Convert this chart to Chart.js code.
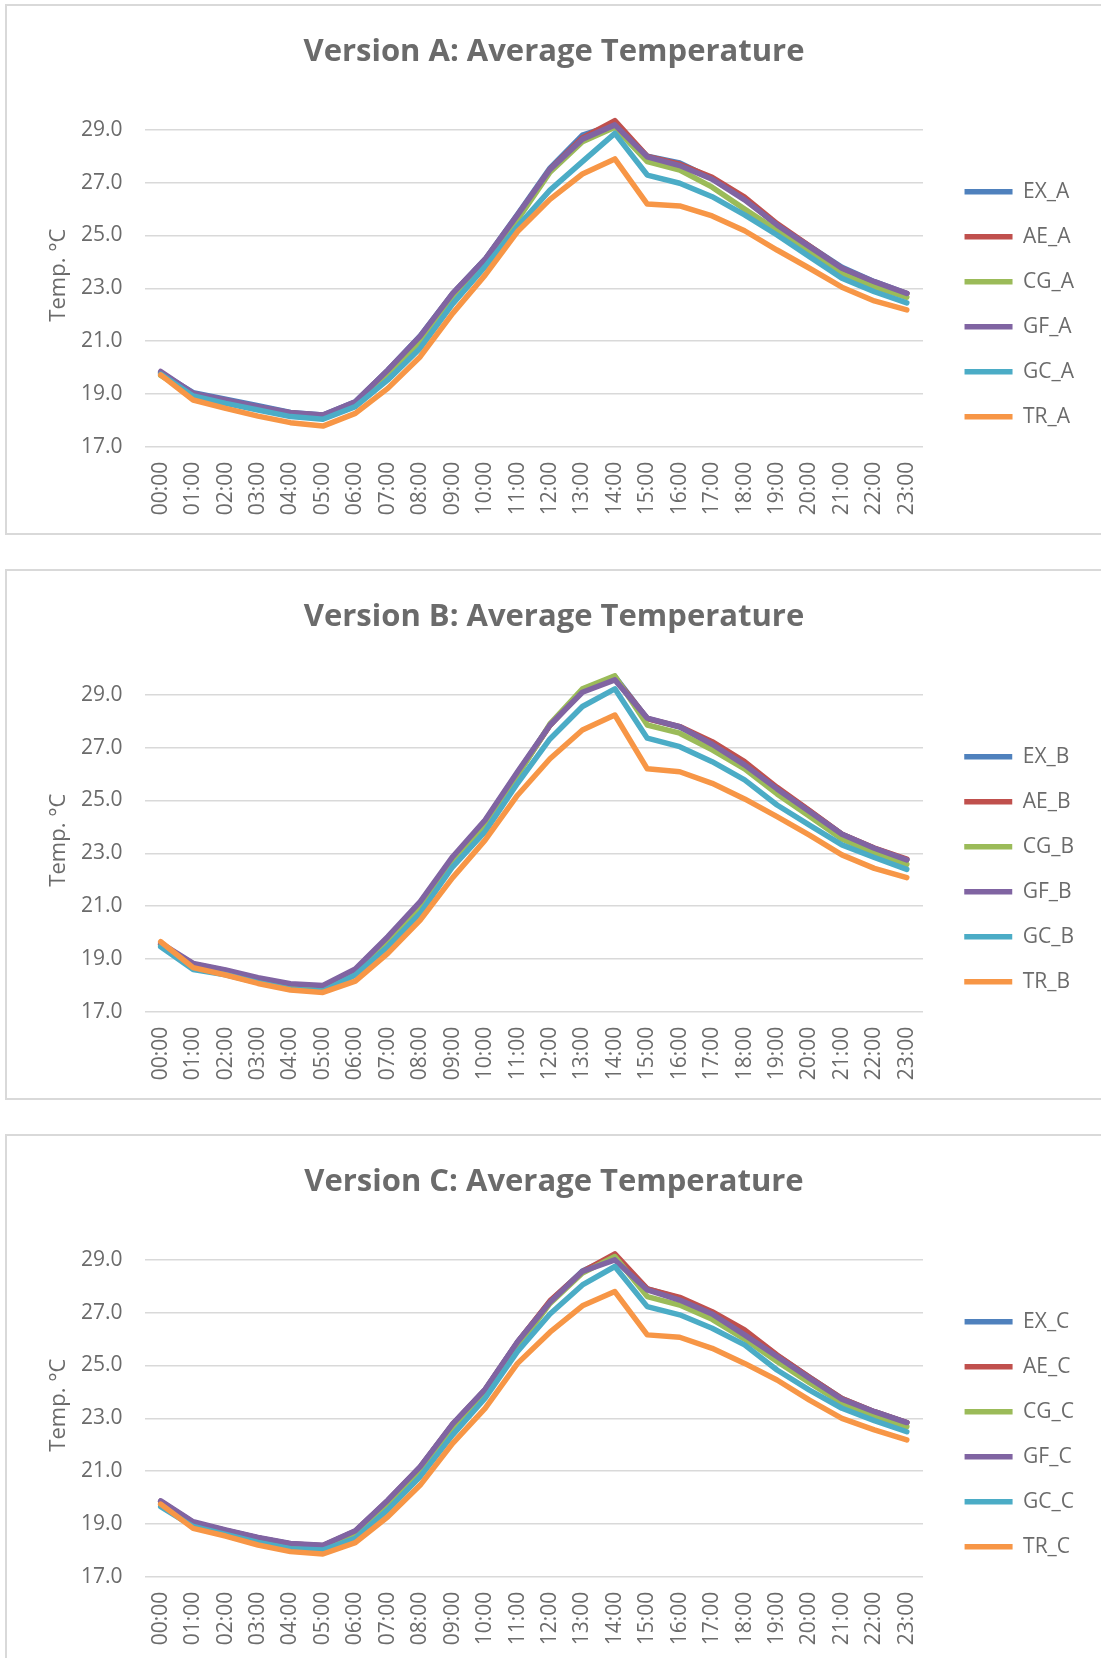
<!DOCTYPE html>
<html>
<head>
<meta charset="utf-8">
<script src="https://cdn.jsdelivr.net/npm/chart.js@4.4.1/dist/chart.umd.min.js"></script>
<style>
  html, body { margin: 0; padding: 0; background: #ffffff; }
  body { width: 1101px; height: 1658px; position: relative; overflow: hidden; }
  .box { position: absolute; left: 5px; width: 1110px; height: 527px; border: 2px solid #d9d9d9; background: #fff; }
  .box canvas { position: absolute; left: 0; top: 0; width: 1094px; height: 527px; }
</style>
</head>
<body>
<div class="box" style="top:4px"><canvas id="chartA" width="1094" height="527"></canvas></div>
<div class="box" style="top:569px"><canvas id="chartB" width="1094" height="527"></canvas></div>
<div class="box" style="top:1134px"><canvas id="chartC" width="1094" height="527"></canvas></div>
<script>
"use strict";

var hours = ["00:00", "01:00", "02:00", "03:00", "04:00", "05:00", "06:00", "07:00",
    "08:00", "09:00", "10:00", "11:00", "12:00", "13:00", "14:00", "15:00",
    "16:00", "17:00", "18:00", "19:00", "20:00", "21:00", "22:00", "23:00"];
var yTicks = [17, 19, 21, 23, 25, 27, 29];
var seriesNames = ["EX", "AE", "CG", "GF", "GC", "TR"];
var seriesColors = ["#4f81bd", "#c0504d", "#9bbb59", "#8064a2", "#4bacc6", "#f79646"];

// Version A
var EX_A = [19.80, 19.05, 18.80, 18.55, 18.30, 18.20, 18.70, 19.90, 21.20, 22.80, 24.10, 25.80, 27.55, 28.80, 29.20, 28.00, 27.75, 27.15, 26.40, 25.40, 24.60, 23.80, 23.25, 22.80];
var AE_A = [19.80, 19.00, 18.75, 18.50, 18.28, 18.18, 18.68, 19.88, 21.15, 22.78, 24.08, 25.75, 27.50, 28.70, 29.35, 28.00, 27.70, 27.20, 26.45, 25.45, 24.60, 23.75, 23.20, 22.80];
var CG_A = [19.70, 18.95, 18.70, 18.45, 18.22, 18.12, 18.55, 19.70, 21.00, 22.56, 23.95, 25.60, 27.40, 28.55, 29.10, 27.80, 27.48, 26.83, 26.00, 25.20, 24.40, 23.55, 23.05, 22.66];
var GF_A = [19.85, 19.02, 18.77, 18.52, 18.29, 18.20, 18.70, 19.90, 21.19, 22.81, 24.10, 25.78, 27.50, 28.65, 29.19, 27.98, 27.65, 27.13, 26.35, 25.40, 24.58, 23.76, 23.25, 22.81];
var GC_A = [19.75, 18.92, 18.64, 18.39, 18.14, 18.04, 18.52, 19.53, 20.73, 22.41, 23.82, 25.34, 26.72, 27.80, 28.87, 27.29, 26.98, 26.47, 25.78, 25.02, 24.20, 23.38, 22.87, 22.45];
var TR_A = [19.72, 18.77, 18.45, 18.16, 17.91, 17.78, 18.26, 19.21, 20.41, 22.05, 23.50, 25.15, 26.37, 27.33, 27.90, 26.19, 26.12, 25.74, 25.18, 24.45, 23.76, 23.04, 22.52, 22.18];

// Version B
var EX_B = [19.55, 18.80, 18.55, 18.25, 18.03, 17.95, 18.58, 19.80, 21.13, 22.82, 24.22, 26.05, 27.85, 29.15, 29.70, 28.10, 27.78, 27.15, 26.40, 25.45, 24.60, 23.72, 23.18, 22.75];
var AE_B = [19.55, 18.80, 18.55, 18.25, 18.03, 17.95, 18.55, 19.78, 21.10, 22.80, 24.20, 26.00, 27.85, 29.15, 29.65, 28.10, 27.80, 27.23, 26.47, 25.50, 24.62, 23.72, 23.20, 22.78];
var CG_B = [19.50, 18.70, 18.45, 18.15, 17.92, 17.85, 18.45, 19.65, 21.00, 22.70, 24.10, 25.95, 27.90, 29.23, 29.72, 27.86, 27.55, 26.92, 26.20, 25.25, 24.40, 23.54, 23.00, 22.58];
var GF_B = [19.60, 18.83, 18.58, 18.29, 18.06, 17.99, 18.62, 19.84, 21.17, 22.87, 24.26, 26.09, 27.86, 29.10, 29.57, 28.12, 27.80, 27.13, 26.35, 25.44, 24.58, 23.72, 23.19, 22.75];
var GC_B = [19.46, 18.60, 18.40, 18.10, 17.85, 17.78, 18.39, 19.46, 20.73, 22.49, 23.82, 25.65, 27.33, 28.56, 29.23, 27.36, 27.04, 26.47, 25.78, 24.83, 24.07, 23.32, 22.84, 22.39];
var TR_B = [19.65, 18.67, 18.39, 18.07, 17.82, 17.73, 18.16, 19.21, 20.47, 22.08, 23.50, 25.20, 26.58, 27.67, 28.24, 26.20, 26.09, 25.65, 25.06, 24.39, 23.69, 22.94, 22.43, 22.08];

// Version C
var EX_C = [19.85, 19.05, 18.75, 18.47, 18.24, 18.17, 18.72, 19.88, 21.15, 22.77, 24.08, 25.88, 27.42, 28.58, 29.15, 27.90, 27.55, 27.00, 26.30, 25.38, 24.55, 23.75, 23.25, 22.84];
var AE_C = [19.85, 19.05, 18.75, 18.47, 18.24, 18.17, 18.72, 19.88, 21.15, 22.77, 24.08, 25.88, 27.45, 28.55, 29.23, 27.90, 27.58, 27.04, 26.35, 25.40, 24.55, 23.75, 23.25, 22.84];
var CG_C = [19.75, 18.92, 18.62, 18.33, 18.10, 18.05, 18.55, 19.65, 20.95, 22.55, 23.90, 25.70, 27.35, 28.50, 29.13, 27.61, 27.29, 26.75, 26.00, 25.15, 24.35, 23.57, 23.05, 22.68];
var GF_C = [19.87, 19.08, 18.77, 18.49, 18.26, 18.19, 18.74, 19.90, 21.17, 22.79, 24.10, 25.90, 27.40, 28.56, 29.00, 27.86, 27.48, 26.95, 26.16, 25.34, 24.52, 23.72, 23.25, 22.84];
var GC_C = [19.65, 18.90, 18.60, 18.30, 18.06, 18.01, 18.45, 19.53, 20.79, 22.37, 23.76, 25.53, 26.95, 28.05, 28.75, 27.23, 26.92, 26.41, 25.78, 24.83, 24.07, 23.38, 22.91, 22.49];
var TR_C = [19.75, 18.83, 18.54, 18.20, 17.95, 17.86, 18.29, 19.27, 20.47, 22.05, 23.38, 25.08, 26.26, 27.26, 27.80, 26.16, 26.07, 25.65, 25.08, 24.45, 23.69, 23.00, 22.56, 22.18];

var TEXT = "#6b6b6b";
var GRID = "#d9d9d9";
var FONT = "'Open Sans', 'Liberation Sans', sans-serif";

// layout targets inside each canvas
var AREA_LEFT = 137.5;
var AREA_RIGHT = 916;
var X_AXIS_HEIGHT = 86.3;
var PAD_LEFT = 17;
var PAD_RIGHT = 17;

function makeChart(id, letter, series) {
    var ctx = document.getElementById(id).getContext("2d");
    var datasets = series.map(function (values, i) {
        return {
            label: seriesNames[i] + "_" + letter,
            data: values,
            borderColor: seriesColors[i],
            backgroundColor: seriesColors[i],
            borderWidth: 5.5,
            borderCapStyle: "round",
            borderJoinStyle: "round",
            pointRadius: 0,
            pointHoverRadius: 0,
            tension: 0,
            fill: false,
            order: series.length - i
        };
    });
    return new Chart(ctx, {
        type: "line",
        data: { labels: hours, datasets: datasets },
        options: {
            responsive: false,
            animation: false,
            devicePixelRatio: 1,
            layout: { padding: { left: PAD_LEFT, right: PAD_RIGHT, top: 0, bottom: 0 } },
            plugins: {
                tooltip: { enabled: false },
                title: {
                    display: true,
                    text: "Version " + letter + ": Average Temperature",
                    color: TEXT,
                    font: { family: FONT, size: 31, weight: "bold", lineHeight: 1.2 },
                    padding: { top: 27.3, bottom: 33 }
                },
                legend: {
                    position: "right",
                    align: "center",
                    title: { display: true, text: "", font: { size: 12, lineHeight: 1 }, padding: { top: 0, bottom: 57.4 } },
                    labels: {
                        usePointStyle: true,
                        pointStyle: "line",
                        pointStyleWidth: 48,
                        padding: 24,
                        color: TEXT,
                        font: { family: FONT, size: 21 },
                        sort: function (a, b) { return a.datasetIndex - b.datasetIndex; }
                    }
                }
            },
            scales: {
                x: {
                    offset: true,
                    grid: { display: false, drawTicks: false },
                    border: { display: false },
                    ticks: {
                        autoSkip: false,
                        minRotation: 90,
                        maxRotation: 90,
                        padding: 15,
                        color: TEXT,
                        font: { family: FONT, size: 21 }
                    },
                    afterFit: function (s) { s.height = X_AXIS_HEIGHT; }
                },
                y: {
                    min: 17,
                    max: 30,
                    grid: { color: GRID, lineWidth: 1.5, drawTicks: false },
                    border: { display: false },
                    ticks: {
                        padding: 22,
                        color: TEXT,
                        font: { family: FONT, size: 21 },
                        callback: function (v) { return Number(v).toFixed(1); }
                    },
                    afterBuildTicks: function (axis) {
                        axis.ticks = yTicks.map(function (v) { return { value: v }; });
                    },
                    title: {
                        display: true,
                        text: "Temp. °C",
                        color: TEXT,
                        font: { family: FONT, size: 22, lineHeight: 1.2 },
                        padding: { top: 38.8 - PAD_LEFT, bottom: 0 }
                    },
                    afterFit: function (s) { s.width = AREA_LEFT - PAD_LEFT; }
                },
                gap: {
                    type: "linear",
                    position: "right",
                    display: true,
                    grid: { display: false, drawTicks: false },
                    border: { display: false },
                    ticks: { display: false },
                    afterFit: function (s) {
                        var lw = s.chart.legend ? s.chart.legend.width : 0;
                        s.width = Math.max(0, s.chart.width - PAD_RIGHT - lw - AREA_RIGHT);
                    }
                }
            }
        }
    });
}

makeChart("chartA", "A", [EX_A, AE_A, CG_A, GF_A, GC_A, TR_A]);
makeChart("chartB", "B", [EX_B, AE_B, CG_B, GF_B, GC_B, TR_B]);
makeChart("chartC", "C", [EX_C, AE_C, CG_C, GF_C, GC_C, TR_C]);
</script>
</body>
</html>
